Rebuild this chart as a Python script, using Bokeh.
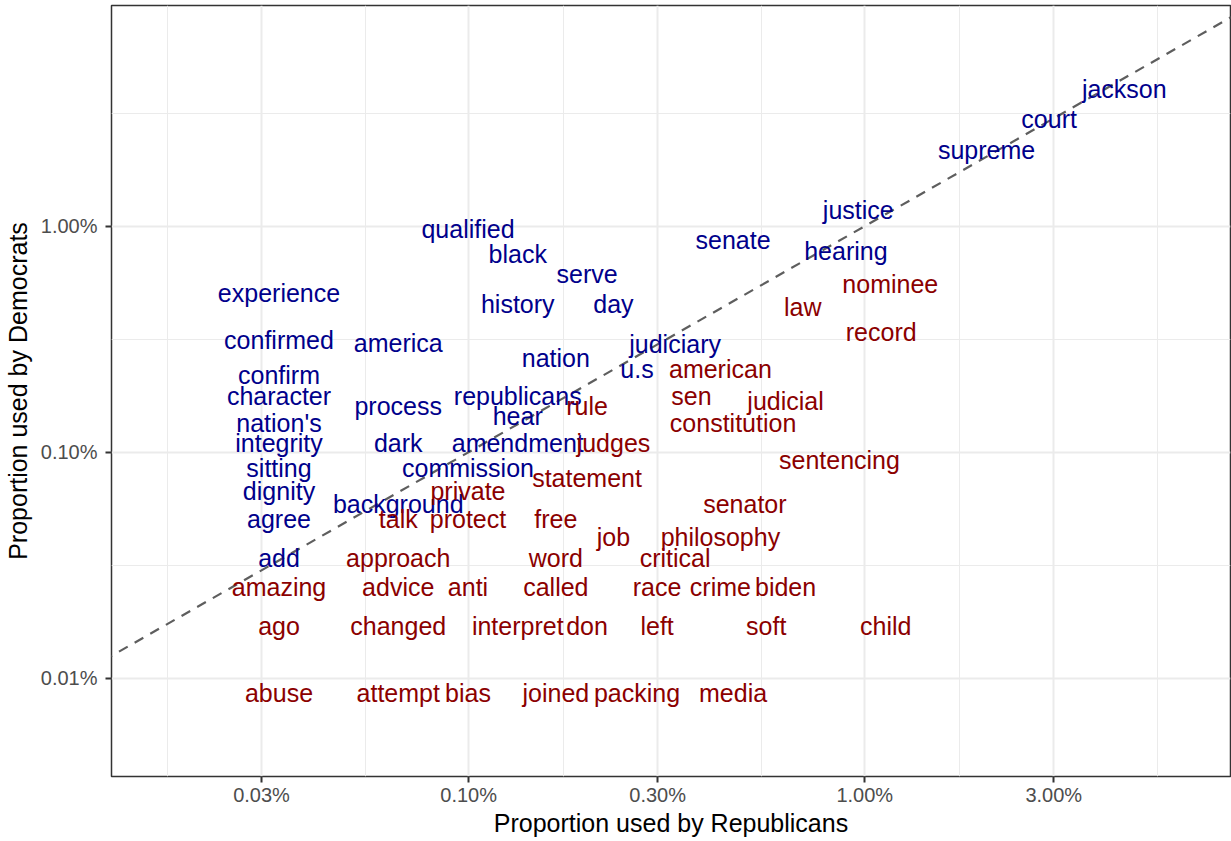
from bokeh.plotting import figure
from bokeh.models import ColumnDataSource, Range1d, FixedTicker, CustomJSTickFormatter, Slope
from bokeh.core.properties import value
from bokeh.embed import file_html
from bokeh.resources import INLINE

# Word frequencies: share of each party's words
words = [
    "jackson", "court", "supreme", "justice", "qualified", "senate", "hearing",
    "black", "serve", "experience", "history", "day", "confirmed", "america",
    "judiciary", "nation", "u.s", "confirm", "character", "republicans",
    "process", "hear", "nation's", "integrity", "dark", "amendment", "sitting",
    "commission", "dignity", "background", "agree", "add",
    "nominee", "law", "record", "american", "sen", "judicial", "rule",
    "constitution", "judges", "sentencing", "statement", "private", "senator",
    "talk", "protect", "free", "job", "philosophy", "approach", "word",
    "critical", "amazing", "advice", "anti", "called", "race", "crime", "biden",
    "ago", "changed", "interpret", "don", "left", "soft", "child",
    "abuse", "attempt", "bias", "joined", "packing", "media",
]

republicans = [
    0.0452, 0.0292, 0.0203, 0.00963, 0.000996, 0.00465, 0.00896,
    0.00133, 0.00199, 0.000332, 0.00133, 0.00232, 0.000332, 0.000664,
    0.00332, 0.00166, 0.00266, 0.000332, 0.000332, 0.00133,
    0.000664, 0.00133, 0.000332, 0.000332, 0.000664, 0.00133, 0.000332,
    0.000996, 0.000332, 0.000664, 0.000332, 0.000332,
    0.0116, 0.00697, 0.0110, 0.00432, 0.00365, 0.00631, 0.00199,
    0.00465, 0.00232, 0.00863, 0.00199, 0.000996, 0.00498,
    0.000664, 0.000996, 0.00166, 0.00232, 0.00432, 0.000664, 0.00166,
    0.00332, 0.000332, 0.000664, 0.000996, 0.00166, 0.00299, 0.00432, 0.00631,
    0.000332, 0.000664, 0.00133, 0.00199, 0.00299, 0.00564, 0.0113,
    0.000332, 0.000664, 0.000996, 0.00166, 0.00266, 0.00465,
]

democrats = [
    0.0411, 0.0303, 0.0221, 0.0120, 0.00987, 0.00882, 0.00789,
    0.00765, 0.00624, 0.00519, 0.00464, 0.00464, 0.00319, 0.00309,
    0.00306, 0.00265, 0.00239, 0.00223, 0.00180, 0.00180,
    0.00163, 0.00147, 0.00138, 0.00112, 0.00112, 0.00112, 0.000864,
    0.000864, 0.000684, 0.000603, 0.000519, 0.000346,
    0.00564, 0.00446, 0.00346, 0.00239, 0.00180, 0.00171, 0.00163,
    0.00138, 0.00112, 0.000938, 0.000781, 0.000684, 0.000603,
    0.000519, 0.000519, 0.000519, 0.000432, 0.000432, 0.000346, 0.000346,
    0.000346, 0.000257, 0.000257, 0.000257, 0.000257, 0.000257, 0.000257, 0.000257,
    0.000173, 0.000173, 0.000173, 0.000173, 0.000173, 0.000173, 0.000173,
    0.0000873, 0.0000873, 0.0000873, 0.0000873, 0.0000873, 0.0000873,
]

leaning = ["Democrats"] * 32 + ["Republicans"] * 41

x_breaks = [0.0003, 0.001, 0.003, 0.01, 0.03]
y_breaks = [0.0001, 0.001, 0.01]

palette = {"Democrats": "#00008B", "Republicans": "#8B0000"}
FONT = "Liberation Sans"

source = ColumnDataSource(dict(
    word=words, rep=republicans, dem=democrats,
    color=[palette[s] for s in leaning],
))

p = figure(
    width=1231, height=841,
    x_axis_type="log", y_axis_type="log",
    x_range=Range1d(1.254e-4, 0.0838), y_range=Range1d(3.67e-5, 0.0947),
    output_backend="svg", toolbar_location=None,
    min_border_left=110, min_border_right=1, min_border_top=5, min_border_bottom=65,
    x_axis_label="Proportion used by Republicans",
    y_axis_label="Proportion used by Democrats",
)
p.background_fill_color = "white"
p.border_fill_color = "white"
p.outline_line_color = "#333333"
p.outline_line_width = 1.5

# major breaks plus log-midpoint minor breaks
x_ticker = FixedTicker(ticks=x_breaks,
                       minor_ticks=[1.732e-4, 5.477e-4, 1.732e-3, 5.477e-3, 1.732e-2, 5.477e-2])
y_ticker = FixedTicker(ticks=y_breaks,
                       minor_ticks=[3.162e-5, 3.162e-4, 3.162e-3, 3.162e-2])
p.xaxis.ticker = x_ticker
p.yaxis.ticker = y_ticker
p.xgrid.ticker = x_ticker
p.ygrid.ticker = y_ticker

for g in (p.xgrid[0], p.ygrid[0]):
    g.grid_line_color = "#EBEBEB"
    g.grid_line_width = 2
    g.minor_grid_line_color = "#EBEBEB"
    g.minor_grid_line_width = 1

pct = CustomJSTickFormatter(code="return (tick * 100).toFixed(2) + '%';")
for ax in (p.xaxis[0], p.yaxis[0]):
    ax.formatter = pct
    ax.axis_line_color = None
    ax.major_tick_line_color = "#333333"
    ax.major_tick_line_width = 2
    ax.major_tick_in = 0
    ax.major_tick_out = 6
    ax.minor_tick_line_color = None
    ax.major_label_text_font = FONT
    ax.major_label_text_font_size = "20px"
    ax.major_label_text_color = "#4D4D4D"
    ax.axis_label_text_font = FONT
    ax.axis_label_text_font_size = "25px"
    ax.axis_label_text_font_style = "normal"
    ax.axis_label_text_color = "black"

p.xaxis.major_label_standoff = 1
p.xaxis.axis_label_standoff = 0
p.yaxis.major_label_standoff = 8
p.yaxis.axis_label_standoff = 6

# equal-share reference line
p.add_layout(Slope(gradient=1, y_intercept=0, line_color="#5E5E5E",
                   line_dash="10 8", line_width=2.2, level="underlay"))

p.text(x="rep", y="dem", text="word", source=source,
       text_color="color", text_font=value(FONT), text_font_size="25px",
       text_align="center", text_baseline="middle", y_offset=2)

open("out.html", "w").write(file_html(p, INLINE))
